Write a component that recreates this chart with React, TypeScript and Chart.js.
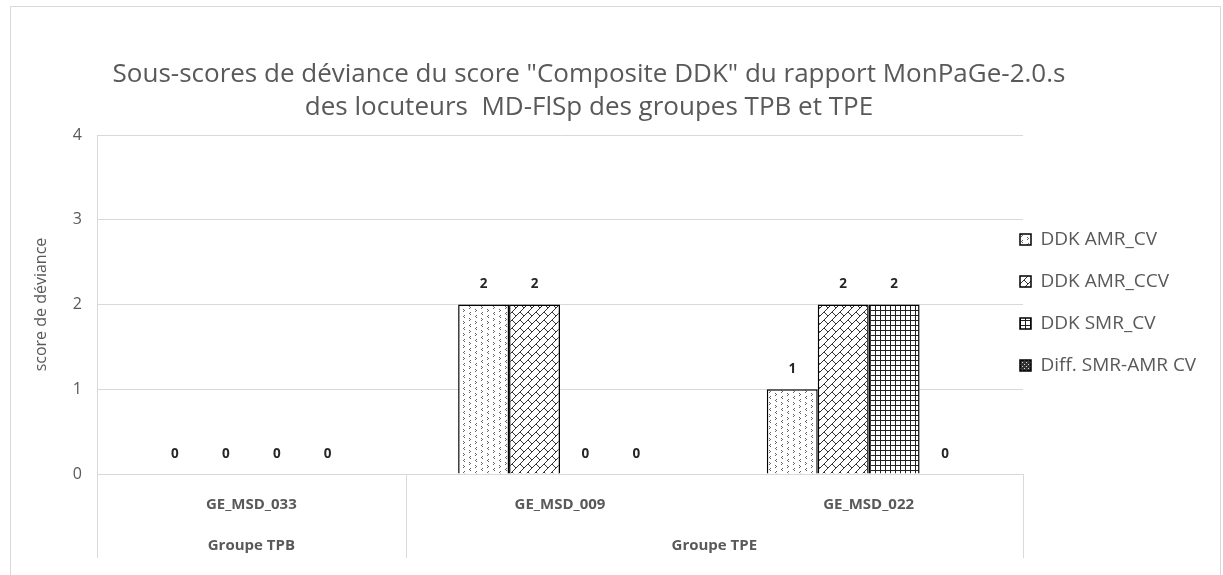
import React, { useEffect, useRef } from 'react';
import { Chart, registerables } from 'chart.js';

Chart.register(...registerables);

// ---- data ----
const titleLines = [
  'Sous-scores de déviance du score "Composite DDK" du rapport MonPaGe-2.0.s',
  'des locuteurs  MD-FlSp des groupes TPB et TPE',
];
const yAxisTitle = 'score de déviance';
const categories = ['GE_MSD_033', 'GE_MSD_009', 'GE_MSD_022'];
const groupNames = ['Groupe TPB', 'Groupe TPE'];
const groupOfCategory = [0, 1, 1];
const seriesNames = ['DDK AMR_CV', 'DDK AMR_CCV', 'DDK SMR_CV', 'Diff. SMR-AMR CV'];
const ddkAmrCv = [0, 2, 1];
const ddkAmrCcv = [0, 2, 2];
const ddkSmrCv = [0, 0, 2];
const diffSmrAmrCv = [0, 0, 0];
const yMin = 0;
const yMax = 4;
const yStep = 1;

const FONT = "'Open Sans', 'DejaVu Sans', sans-serif";
const GREY = '#595959';
const LINE = '#d9d9d9';

function makePattern(size: number, draw: (g: CanvasRenderingContext2D) => void): CanvasPattern | string {
  const c = document.createElement('canvas');
  c.width = size;
  c.height = size;
  const g = c.getContext('2d');
  if (!g) return '#fff';
  g.fillStyle = '#ffffff';
  g.fillRect(0, 0, size, size);
  draw(g);
  return g.createPattern(c, 'repeat') || '#fff';
}

function px(g: CanvasRenderingContext2D, pts: number[][], color: string) {
  g.fillStyle = color;
  pts.forEach(([x, y]) => g.fillRect(x, y, 1, 1));
}

export default function App() {
  const ref = useRef<HTMLCanvasElement>(null);

  useEffect(() => {
    const canvas = ref.current;
    if (!canvas) return;

    const confetti = makePattern(12, (g) => {
      const c = '#666';
      px(g, [[2, 0], [1, 1], [2, 2]], c);
      px(g, [[8, 3], [7, 4], [8, 5]], c);
      px(g, [[1, 6], [2, 7], [1, 8]], c);
      px(g, [[7, 9], [8, 10], [7, 11]], c);
    });
    const brick = makePattern(8, (g) => {
      g.strokeStyle = '#333';
      g.lineWidth = 1;
      g.beginPath();
      g.moveTo(-1, 9);
      g.lineTo(9, -1);
      g.moveTo(0, 0);
      g.lineTo(4, 4);
      g.stroke();
    });
    const grid = makePattern(5, (g) => {
      g.fillStyle = '#222';
      g.fillRect(0, 0, 5, 1);
      g.fillRect(0, 0, 1, 5);
    });
    const checker = makePattern(4, (g) => {
      g.fillStyle = '#333';
      g.fillRect(0, 0, 4, 4);
      px(g, [[0, 0], [2, 2]], '#ddd');
    });

    const seriesData = [ddkAmrCv, ddkAmrCcv, ddkSmrCv, diffSmrAmrCv];
    const fills = [confetti, brick, grid, checker];

    const frame = {
      id: 'frame',
      beforeDraw(chart: any) {
        const ctx = chart.ctx;
        ctx.save();
        ctx.fillStyle = '#fff';
        ctx.fillRect(0, 0, chart.width, chart.height);
        ctx.strokeStyle = LINE;
        ctx.lineWidth = 1;
        ctx.beginPath();
        ctx.moveTo(10.5, chart.height + 5);
        ctx.lineTo(10.5, 6.5);
        ctx.lineTo(1220.5, 6.5);
        ctx.lineTo(1220.5, chart.height + 5);
        ctx.stroke();
        ctx.restore();
      },
    };

    const tweaks = {
      id: 'tweaks',
      afterLayout(chart: any) {
        const t = chart.titleBlock;
        if (t) {
          t.left = 589 - 589;
          t.right = 589 + 589;
          t.width = 1178;
        }
        const l = chart.legend;
        if (l) {
          l.left = 1020 - 23;
          l.top = 207;
          l.right = chart.width;
          l.width = l.right - l.left;
        }
      },
    };

    const bottomAxis = {
      id: 'bottomAxis',
      afterDraw(chart: any) {
        const ctx = chart.ctx;
        const xs = chart.scales.x;
        const area = chart.chartArea;
        const n = categories.length;
        const bottomY = 558;
        ctx.save();
        ctx.strokeStyle = LINE;
        ctx.lineWidth = 1;
        const bounds: number[] = [xs.left];
        for (let i = 1; i < n; i++) {
          if (groupOfCategory[i] !== groupOfCategory[i - 1]) {
            bounds.push((xs.getPixelForValue(i - 1) + xs.getPixelForValue(i)) / 2);
          }
        }
        bounds.push(xs.right);
        ctx.beginPath();
        bounds.forEach((b) => {
          const x = Math.round(b) + 0.5;
          ctx.moveTo(x, area.bottom);
          ctx.lineTo(x, bottomY);
        });
        ctx.stroke();
        ctx.fillStyle = GREY;
        ctx.font = `bold 15px ${FONT}`;
        ctx.textAlign = 'center';
        ctx.textBaseline = 'middle';
        groupNames.forEach((name, gi) => {
          const idx = groupOfCategory.map((g, i) => (g === gi ? i : -1)).filter((i) => i >= 0);
          const xsum = idx.reduce((s, i) => s + xs.getPixelForValue(i), 0);
          ctx.fillText(name, xsum / idx.length, 546);
        });
        ctx.restore();
      },
    };

    const valueLabels = {
      id: 'valueLabels',
      afterDatasetsDraw(chart: any) {
        const ctx = chart.ctx;
        ctx.save();
        ctx.fillStyle = '#262626';
        ctx.font = `bold 13.5px ${FONT}`;
        ctx.textAlign = 'center';
        ctx.textBaseline = 'middle';
        chart.data.datasets.forEach((ds: any, di: number) => {
          const meta = chart.getDatasetMeta(di);
          meta.data.forEach((bar: any, i: number) => {
            ctx.fillText(String(ds.data[i]), bar.x, bar.y - 20);
          });
        });
        ctx.restore();
      },
    };

    const chart = new Chart(canvas, {
      type: 'bar',
      data: {
        labels: categories,
        datasets: seriesNames.map((name, i) => ({
          label: name,
          data: seriesData[i],
          backgroundColor: fills[i] as any,
          borderColor: '#000',
          borderWidth: 1.5,
          barPercentage: 1,
          categoryPercentage: 0.66,
        })),
      },
      options: {
        responsive: false,
        animation: false,
        devicePixelRatio: 1,
        layout: { padding: { left: 0, right: 50, top: 0, bottom: 0 } },
        plugins: {
          title: {
            display: true,
            text: titleLines,
            color: GREY,
            font: { family: FONT, size: 26, weight: 'normal', lineHeight: 1.27 },
            padding: { top: 58, bottom: 11 },
          },
          legend: {
            display: true,
            position: 'right',
            align: 'start',
            maxWidth: 150,
            labels: {
              color: GREY,
              font: { family: FONT, size: 19 },
              boxWidth: 11,
              boxHeight: 11,
              padding: 23,
            },
          },
          tooltip: { enabled: false },
        },
        scales: {
          x: {
            grid: { display: false, drawTicks: false },
            border: { display: false },
            ticks: {
              color: GREY,
              font: { family: FONT, size: 15, weight: 'bold' },
              padding: 22,
              maxRotation: 0,
              autoSkip: false,
            },
            afterFit(scale: any) {
              scale.height = 101;
            },
          },
          y: {
            min: yMin,
            max: yMax,
            ticks: {
              stepSize: yStep,
              color: GREY,
              font: { family: FONT, size: 16 },
              padding: 15,
            },
            grid: { color: LINE, lineWidth: 1, drawTicks: false },
            border: { display: true, color: LINE },
            title: {
              display: true,
              text: yAxisTitle,
              color: GREY,
              font: { family: FONT, size: 16 },
              padding: { top: 32, bottom: 0 },
            },
            afterFit(scale: any) {
              scale.width = 97;
            },
          },
        },
      },
      plugins: [frame, tweaks, bottomAxis, valueLabels],
    });

    return () => chart.destroy();
  }, []);

  return (
    <div style={{ position: 'absolute', left: 0, top: 0, width: 1223, height: 575, background: '#fff' }}>
      <canvas ref={ref} width={1223} height={575} style={{ width: 1223, height: 575, display: 'block' }} />
    </div>
  );
}
